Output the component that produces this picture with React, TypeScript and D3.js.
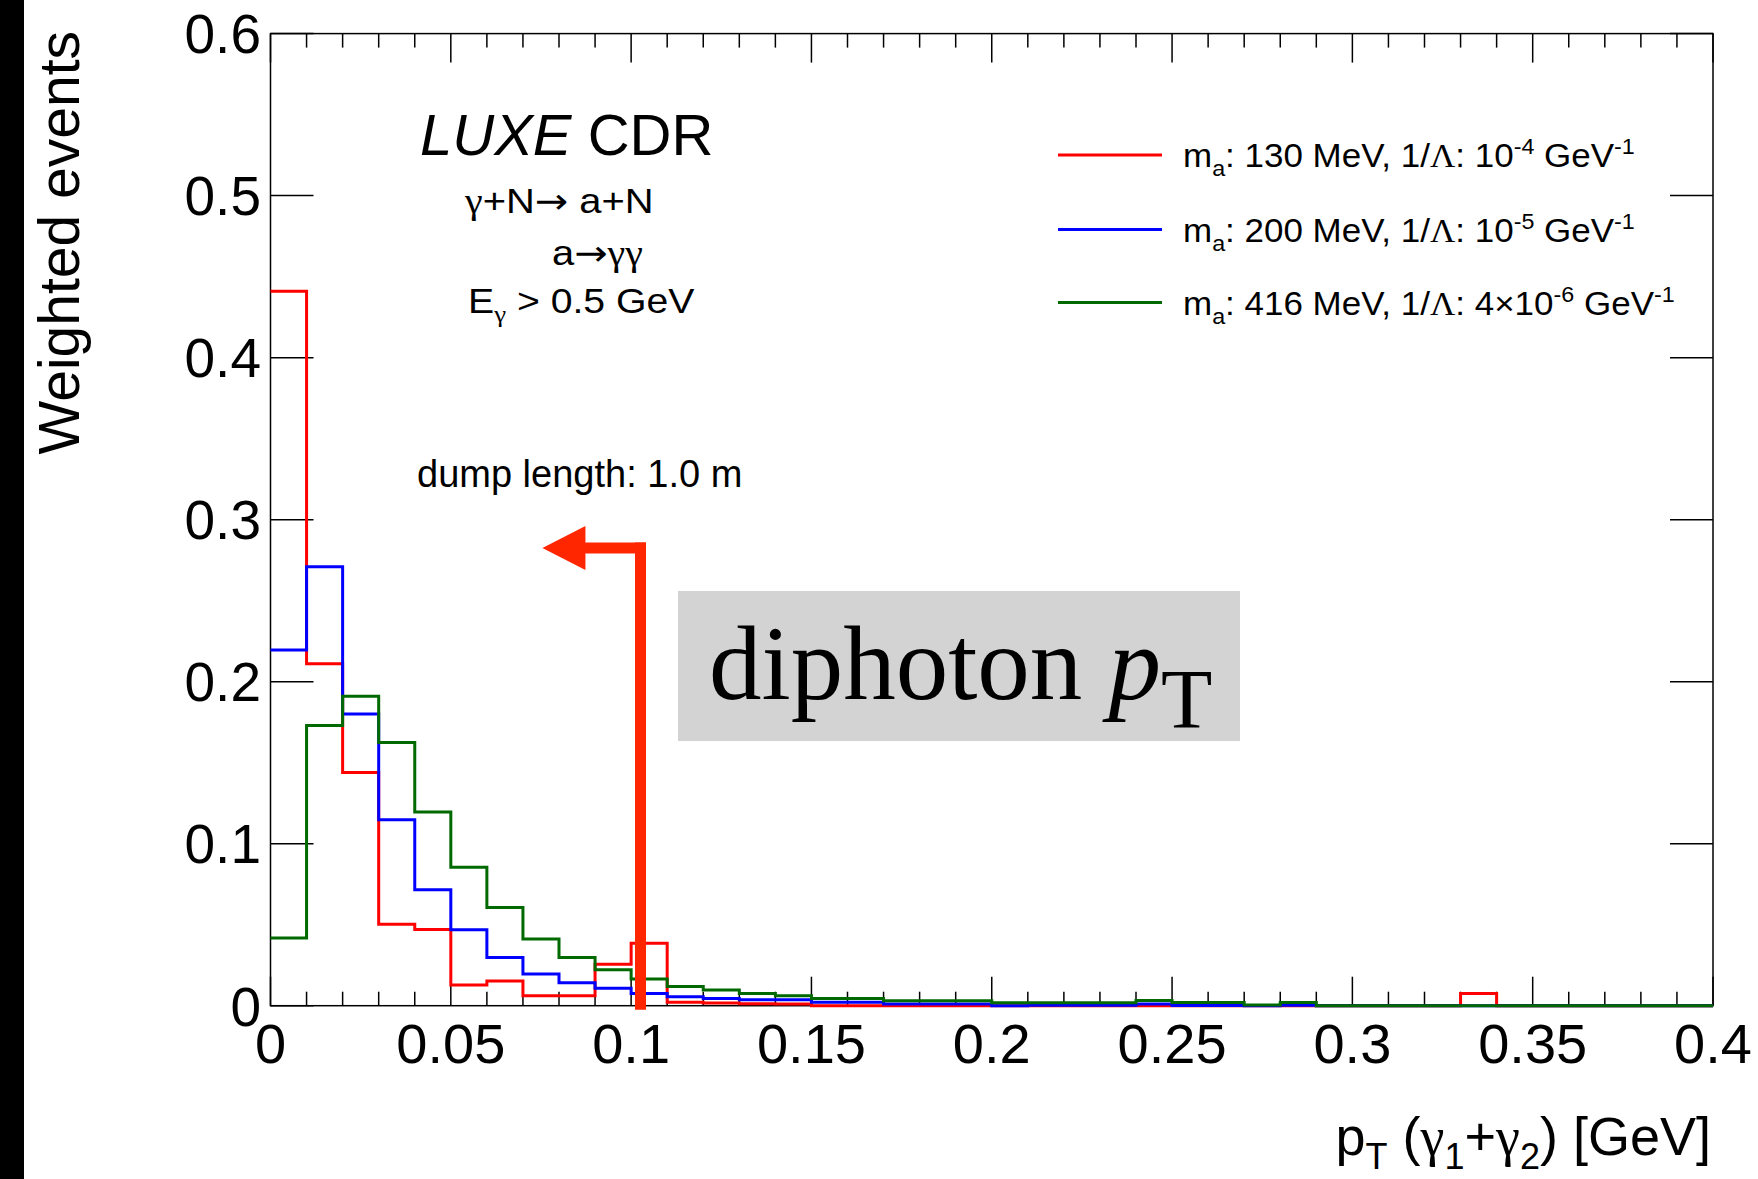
import React from 'react';
import * as d3 from 'd3';

// ---------------- data ----------------
const xDomain: [number, number] = [0, 0.4];
const yDomain: [number, number] = [0, 0.6];
const nBins = 40;

const xMajorTicks = [0, 0.05, 0.1, 0.15, 0.2, 0.25, 0.3, 0.35, 0.4];
const xTickLabels = ['0', '0.05', '0.1', '0.15', '0.2', '0.25', '0.3', '0.35', '0.4'];
const yMajorTicks = [0, 0.1, 0.2, 0.3, 0.4, 0.5, 0.6];
const yTickLabels = ['0', '0.1', '0.2', '0.3', '0.4', '0.5', '0.6'];

// m_a 130 MeV
const redValues = [
  0.441, 0.211, 0.144, 0.0503, 0.047, 0.0128, 0.0153, 0.0062, 0.0062, 0.0256,
  0.0385, 0.0021, 0.0017, 0.0012, 0.001, 0, 0, 0, 0, 0,
  0, 0, 0, 0, 0, 0, 0, 0, 0, 0,
  0, 0, 0, 0.0076, 0, 0, 0, 0, 0, 0,
];
// m_a 200 MeV
const blueValues = [
  0.2196, 0.2709, 0.18, 0.1148, 0.0715, 0.0469, 0.0298, 0.0196, 0.0142, 0.0108,
  0.0075, 0.0055, 0.0045, 0.0037, 0.0037, 0.0021, 0.0021, 0.0011, 0.0011, 0.0011,
  0, 0.0003, 0.0003, 0.0003, 0.0011, 0.0002, 0.0002, 0, 0.0003, 0,
  0, 0, 0, 0, 0, 0, 0, 0, 0, 0,
];
// m_a 416 MeV
const greenValues = [
  0.0418, 0.173, 0.191, 0.1625, 0.1196, 0.0855, 0.0606, 0.0411, 0.0298, 0.0222,
  0.0165, 0.0118, 0.0097, 0.0075, 0.0062, 0.0045, 0.0045, 0.003, 0.003, 0.003,
  0.0018, 0.0018, 0.0018, 0.0018, 0.0032, 0.0019, 0.0019, 0.0004, 0.0019, 0,
  0, 0, 0, 0, 0, 0, 0, 0, 0, 0,
];

const seriesColors = ['#ff0000', '#0000ff', '#006a00'];
const seriesMass = ['130', '200', '416'];
const seriesCoupling = ['10', '10', '4\u00d710'];
const seriesExp = ['-4', '-5', '-6'];

// annotation: cut arrow (in data units)
const cutX = 0.1026;
const cutArrowY = 0.2825;
const cutArrowTipX = 0.0754;

// ---------------- layout ----------------
const W = 1758;
const H = 1179;
const plotLeft = 270.5;
const plotRight = 1713;
const plotTop = 33.6;
const plotBottom = 1005.7;

const SANS = '"Liberation Sans", Arial, Helvetica, sans-serif';
const SERIF = '"Liberation Serif", "Times New Roman", serif';
const ARROWFONT = '"DejaVu Sans", sans-serif';

const x = d3.scaleLinear().domain(xDomain).range([plotLeft, plotRight]);
const y = d3.scaleLinear().domain(yDomain).range([plotBottom, plotTop]);

const binWidth = (xDomain[1] - xDomain[0]) / nBins;
const minorTicks = d3.range(nBins + 1).map((i) => xDomain[0] + i * binWidth);

function stepPath(values: number[]): string {
  const pts: [number, number][] = values.map((v, i) => [xDomain[0] + i * binWidth, v]);
  pts.push([xDomain[1], values[values.length - 1]]);
  const line = d3
    .line<[number, number]>()
    .x((d) => x(d[0]))
    .y((d) => y(d[1]))
    .curve(d3.curveStepAfter);
  return line(pts) || '';
}

export default function App() {
  const allSeries = [redValues, blueValues, greenValues];
  const majorLen = 29;
  const minorLen = 14;
  const yTickLen = 43;

  const arrowX = x(cutX);
  const arrowY = y(cutArrowY);
  const tipX = x(cutArrowTipX);
  const headBase = tipX + 43;
  const arrowColor = '#ff2600';

  const legendY = [155, 229.5, 302.5];
  const gamma = '\u03b3';
  const subDy = 14;

  return (
    <svg
      width={W}
      height={H}
      viewBox={`0 0 ${W} ${H}`}
      style={{ position: 'absolute', left: 0, top: 0, display: 'block', background: '#fff' }}
    >
      <rect x={0} y={0} width={W} height={H} fill="#ffffff" />
      <rect x={0} y={0} width={24} height={H} fill="#000000" />

      {/* frame */}
      <rect
        x={plotLeft}
        y={plotTop}
        width={plotRight - plotLeft}
        height={plotBottom - plotTop}
        fill="none"
        stroke="#000"
        strokeWidth={1.5}
      />

      {/* x ticks bottom & top */}
      {minorTicks.map((t, i) => {
        const isMajor = i % 5 === 0;
        const len = isMajor ? majorLen : minorLen;
        const xp = x(t);
        return (
          <g key={`xt${i}`}>
            <line x1={xp} x2={xp} y1={plotBottom} y2={plotBottom - len} stroke="#000" strokeWidth={1.5} />
            <line x1={xp} x2={xp} y1={plotTop} y2={plotTop + len} stroke="#000" strokeWidth={1.5} />
          </g>
        );
      })}

      {/* y ticks left & right */}
      {yMajorTicks.map((t, i) => (
        <g key={`yt${i}`}>
          <line x1={plotLeft} x2={plotLeft + yTickLen} y1={y(t)} y2={y(t)} stroke="#000" strokeWidth={1.5} />
          <line x1={plotRight} x2={plotRight - yTickLen} y1={y(t)} y2={y(t)} stroke="#000" strokeWidth={1.5} />
        </g>
      ))}

      {/* tick labels */}
      {xMajorTicks.map((t, i) => (
        <text
          key={`xl${i}`}
          x={x(t)}
          y={1063}
          textAnchor="middle"
          fontFamily={SANS}
          fontSize={56}
          fill="#000"
        >
          {xTickLabels[i]}
        </text>
      ))}
      {yMajorTicks.map((t, i) => (
        <text
          key={`yl${i}`}
          x={261}
          y={y(t)}
          dy="0.36em"
          textAnchor="end"
          fontFamily={SANS}
          fontSize={55}
          fill="#000"
        >
          {yTickLabels[i]}
        </text>
      ))}

      {/* axis titles */}
      <text
        transform="translate(79,31) rotate(-90)"
        textAnchor="end"
        fontFamily={SANS}
        fontSize={57}
        fill="#000"
      >
        Weighted events
      </text>
      <text x={1711} y={1155} textAnchor="end" fontFamily={SANS} fontSize={54} fill="#000">
        <tspan>p</tspan>
        <tspan fontSize={36} dy={subDy}>T</tspan>
        <tspan fontSize={54} dy={-subDy}>{' ('}</tspan>
        <tspan fontFamily={SERIF}>{gamma}</tspan>
        <tspan fontSize={36} dy={subDy}>1</tspan>
        <tspan fontSize={54} dy={-subDy}>{'+'}</tspan>
        <tspan fontFamily={SERIF}>{gamma}</tspan>
        <tspan fontSize={36} dy={subDy}>2</tspan>
        <tspan fontSize={54} dy={-subDy}>{') [GeV]'}</tspan>
      </text>

      {/* histograms */}
      {allSeries.map((vals, i) => (
        <path
          key={`h${i}`}
          d={stepPath(vals)}
          fill="none"
          stroke={seriesColors[i]}
          strokeWidth={3}
          strokeLinejoin="miter"
        />
      ))}

      {/* labels */}
      <text x={420} y={155} fontFamily={SANS} fontSize={58} fill="#000">
        <tspan fontStyle="italic">LUXE</tspan>
        <tspan>{' CDR'}</tspan>
      </text>
      <g transform="translate(465,213) scale(1.14,1)">
        <text x={0} y={0} fontFamily={SANS} fontSize={35} fill="#000">
          <tspan fontFamily={SERIF}>{gamma}</tspan>
          <tspan>{'+N'}</tspan>
          <tspan fontFamily={ARROWFONT}>{'\u2192'}</tspan>
          <tspan>{' a+N'}</tspan>
        </text>
      </g>
      <g transform="translate(552,265) scale(1.14,1)">
        <text x={0} y={0} fontFamily={SANS} fontSize={35} fill="#000">
          <tspan>a</tspan>
          <tspan fontFamily={ARROWFONT}>{'\u2192'}</tspan>
          <tspan fontFamily={SERIF}>{gamma + gamma}</tspan>
        </text>
      </g>
      <g transform="translate(468,313) scale(1.12,1)">
        <text x={0} y={0} fontFamily={SANS} fontSize={35} fill="#000">
          <tspan>E</tspan>
          <tspan fontFamily={SERIF} fontSize={24} dy={9}>{gamma}</tspan>
          <tspan fontSize={35} dy={-9}>{' > 0.5 GeV'}</tspan>
        </text>
      </g>
      <text x={417} y={487} fontFamily={SANS} fontSize={38} fill="#000">
        dump length: 1.0 m
      </text>

      {/* legend */}
      {legendY.map((ly, i) => (
        <g key={`lg${i}`}>
          <line x1={1058} x2={1162} y1={ly} y2={ly} stroke={seriesColors[i]} strokeWidth={3} />
          <g transform={`translate(1183,${ly + 12}) scale(1.06,1)`}>
            <text x={0} y={0} fontFamily={SANS} fontSize={33} fill="#000">
              <tspan>m</tspan>
              <tspan fontSize={22} dy={9}>a</tspan>
              <tspan fontSize={33} dy={-9}>{`: ${seriesMass[i]} MeV, 1/`}</tspan>
              <tspan fontFamily={SERIF}>{'\u039b'}</tspan>
              <tspan>{`: ${seriesCoupling[i]}`}</tspan>
              <tspan fontSize={22} dy={-13}>{seriesExp[i]}</tspan>
              <tspan fontSize={33} dy={13}>{' GeV'}</tspan>
              <tspan fontSize={22} dy={-13}>-1</tspan>
            </text>
          </g>
        </g>
      ))}

      {/* cut arrow */}
      <line x1={arrowX} x2={arrowX} y1={plotBottom + 4} y2={arrowY - 5.5} stroke={arrowColor} strokeWidth={11} />
      <line x1={arrowX + 5.5} x2={headBase - 1} y1={arrowY} y2={arrowY} stroke={arrowColor} strokeWidth={11} />
      <path
        d={`M${tipX},${arrowY} L${headBase},${arrowY - 22} L${headBase},${arrowY + 22} Z`}
        fill={arrowColor}
      />

      {/* diphoton pT box */}
      <rect x={678} y={591} width={562} height={150} fill="#d3d3d3" />
      <text x={709} y={699} fontFamily={SERIF} fontSize={105} fill="#000">
        <tspan>{'diphoton '}</tspan>
        <tspan fontStyle="italic">p</tspan>
        <tspan fontSize={84} dy={29}>T</tspan>
      </text>
    </svg>
  );
}
